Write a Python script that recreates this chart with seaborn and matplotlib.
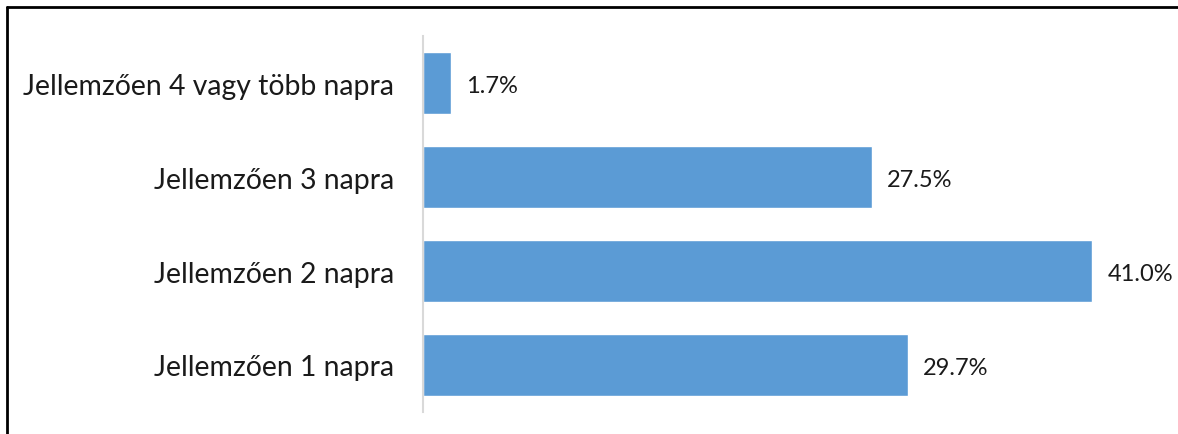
import numpy as np
import pandas as pd
import matplotlib
matplotlib.use("Agg")
import matplotlib.pyplot as plt
from matplotlib.lines import Line2D
import seaborn as sns

categories = ["Jellemzően 4 vagy több napra", "Jellemzően 3 napra",
              "Jellemzően 2 napra", "Jellemzően 1 napra"]
values = [1.7, 27.5, 41.0, 29.7]
value_labels = ["1.7%", "27.5%", "41.0%", "29.7%"]

df = pd.DataFrame({"category": categories, "value": values})

sns.set_style("white")
plt.rcParams["font.family"] = ["Lato", "DejaVu Sans"]

fig = plt.figure(figsize=(11.78, 4.35), dpi=100)
ax = fig.add_axes([423 / 1178, 1 - 413 / 435, (1150 - 423) / 1178, (413 - 37) / 435])

sns.barplot(data=df, x="value", y="category", order=categories, color="#5B9BD5",
            width=0.66, saturation=1, ax=ax)

ax.set_xlim(0, (1150 - 423) / 16.32)
ax.set_ylim(3.5, -0.5)
ax.set_xlabel("")
ax.set_ylabel("")
ax.set_xticks([])
for side in ["top", "right", "bottom"]:
    ax.spines[side].set_visible(False)
ax.spines["left"].set_color("#D9D9D9")
ax.spines["left"].set_linewidth(1.5)
ax.tick_params(axis="y", length=0, pad=21, labelsize=20.4, labelcolor="#1a1a1a")

for i, (v, lab) in enumerate(zip(values, value_labels)):
    ax.annotate(lab, (v, i), xytext=(11, -2), textcoords="offset points",
                va="center", ha="left", fontsize=17, color="#1a1a1a",
                annotation_clip=False)

# outer frame (top and left edges visible in the crop)
fig.add_artist(Line2D([6.5 / 1178, 6.5 / 1178], [0, 1 - 7.5 / 435], transform=fig.transFigure,
                      color="black", linewidth=2))
fig.add_artist(Line2D([6.5 / 1178, 1], [1 - 7.5 / 435, 1 - 7.5 / 435], transform=fig.transFigure,
                      color="black", linewidth=2))

fig.savefig("out.png", dpi=100)
